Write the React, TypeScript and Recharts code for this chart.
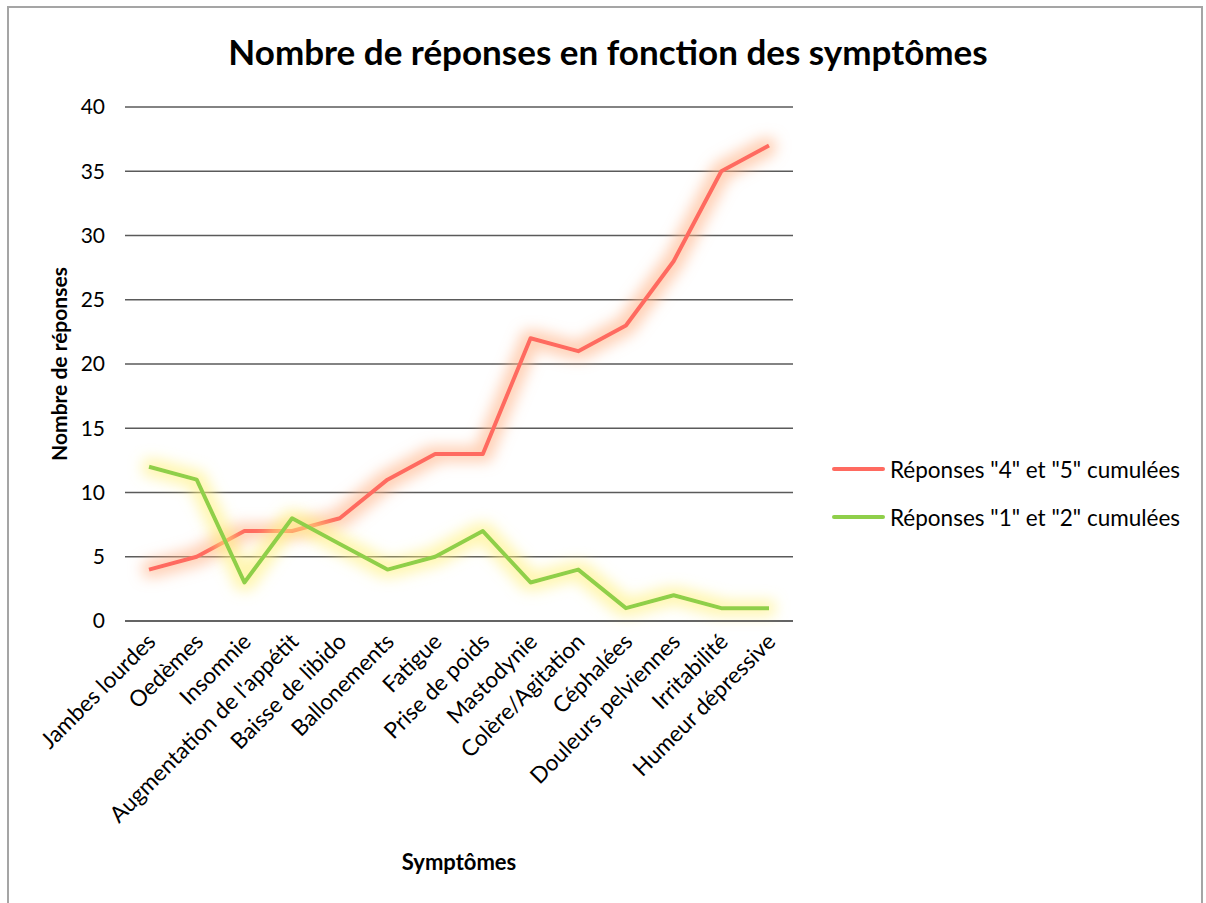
import React from "react";
import { CartesianGrid, Line, LineChart, XAxis, YAxis } from "recharts";

const symptoms = [
  "Jambes lourdes",
  "Oedèmes",
  "Insomnie",
  "Augmentation de l'appétit",
  "Baisse de libido",
  "Ballonements",
  "Fatigue",
  "Prise de poids",
  "Mastodynie",
  "Colère/Agitation",
  "Céphalées",
  "Douleurs pelviennes",
  "Irritabilité",
  "Humeur dépressive",
];
const highScores = [4, 5, 7, 7, 8, 11, 13, 13, 22, 21, 23, 28, 35, 37];
const lowScores = [12, 11, 3, 8, 6, 4, 5, 7, 3, 4, 1, 2, 1, 1];
const yTicks = [0, 5, 10, 15, 20, 25, 30, 35, 40];

const RED = "#ff6a60";
const GREEN = "#8fcf4a";
const FONT = "Lato, 'Open Sans', sans-serif";

const data = symptoms.map((name, i) => ({ name, high: highScores[i], low: lowScores[i] }));

function XTick({ x, y, payload }: any) {
  const tx = x + 8;
  const ty = y + 14;
  return (
    <text
      x={tx}
      y={ty}
      transform={`rotate(-45, ${tx}, ${ty})`}
      textAnchor="end"
      fontSize={22.5}
      fill="#000"
      fontFamily={FONT}
    >
      {payload.value}
    </text>
  );
}

function LegendBox() {
  const items = [
    { label: 'Réponses "4" et "5" cumulées', color: RED },
    { label: 'Réponses "1" et "2" cumulées', color: GREEN },
  ];
  return (
    <div style={{ fontFamily: FONT, fontSize: 22.5, color: "#000" }}>
      {items.map((it) => (
        <div key={it.label} style={{ display: "flex", alignItems: "center", height: 48 }}>
          <span
            style={{
              display: "inline-block",
              width: 53,
              height: 4,
              borderRadius: 2,
              background: it.color,
              marginRight: 5,
            }}
          />
          <span>{it.label}</span>
        </div>
      ))}
    </div>
  );
}

export default function App() {
  return (
    <div style={{ position: "absolute", left: 0, top: 0, width: 1206, height: 903, background: "#fff" }}>
      <div
        style={{
          position: "absolute",
          left: 7,
          top: 6,
          width: 1196,
          height: 920,
          border: "2px solid #a5a5a5",
          boxSizing: "border-box",
        }}
      />
      <div
        style={{
          position: "absolute",
          left: 0,
          top: 30,
          width: 1216,
          textAlign: "center",
          fontFamily: FONT,
          fontWeight: 700,
          fontSize: 35,
          color: "#000",
        }}
      >
        Nombre de réponses en fonction des symptômes
      </div>
      <div
        style={{
          position: "absolute",
          left: 0,
          top: 848,
          width: 918,
          textAlign: "center",
          fontFamily: FONT,
          fontWeight: 700,
          fontSize: 22,
        }}
      >
        Symptômes
      </div>
      <div style={{ position: "absolute", left: 832, top: 445 }}>
        <LegendBox />
      </div>
      <div style={{ position: "absolute", left: 0, top: 0 }}>
        <LineChart width={1206} height={903} data={data} margin={{ top: 107, right: 413, bottom: 82, left: 0 }}>
          <defs>
            <filter id="glowRed" x="-20%" y="-20%" width="140%" height="140%">
              <feMorphology in="SourceAlpha" operator="dilate" radius="6" result="d" />
              <feFlood floodColor="#ffb184" floodOpacity="0.6" />
              <feComposite in2="d" operator="in" result="c" />
              <feGaussianBlur in="c" stdDeviation="7" result="b" />
              <feMerge>
                <feMergeNode in="b" />
                <feMergeNode in="SourceGraphic" />
              </feMerge>
            </filter>
            <filter id="glowGreen" x="-20%" y="-20%" width="140%" height="140%">
              <feMorphology in="SourceAlpha" operator="dilate" radius="6" result="d" />
              <feFlood floodColor="#fff07a" floodOpacity="0.6" />
              <feComposite in2="d" operator="in" result="c" />
              <feGaussianBlur in="c" stdDeviation="7" result="b" />
              <feMerge>
                <feMergeNode in="b" />
                <feMergeNode in="SourceGraphic" />
              </feMerge>
            </filter>
          </defs>
          <CartesianGrid vertical={false} stroke="#5a5a5a" strokeWidth={1.5} />
          <XAxis
            dataKey="name"
            interval={0}
            tick={<XTick />}
            tickLine={false}
            axisLine={{ stroke: "#5a5a5a", strokeWidth: 1.5 }}
            padding={{ left: 24, right: 24 }}
            height={200}
          />
          <YAxis
            width={125}
            domain={[0, 40]}
            ticks={yTicks}
            tickLine={false}
            axisLine={false}
            tickMargin={14}
            tick={{ fill: "#000", fontSize: 21, fontFamily: FONT }}
            label={{
              value: "Nombre de réponses",
              angle: -90,
              position: "insideLeft",
              offset: 0,
              dx: 60,
              style: { textAnchor: "middle", fontWeight: 700, fontSize: 21, fontFamily: FONT, fill: "#000" },
            }}
          />
          <Line
            dataKey="high"
            name='Réponses "4" et "5" cumulées'
            stroke={RED}
            strokeWidth={4}
            dot={false}
            filter="url(#glowRed)"
            strokeLinejoin="round"
            isAnimationActive={false}
          />
          <Line
            dataKey="low"
            name='Réponses "1" et "2" cumulées'
            stroke={GREEN}
            strokeWidth={4}
            dot={false}
            filter="url(#glowGreen)"
            strokeLinejoin="round"
            isAnimationActive={false}
          />
        </LineChart>
      </div>
    </div>
  );
}
